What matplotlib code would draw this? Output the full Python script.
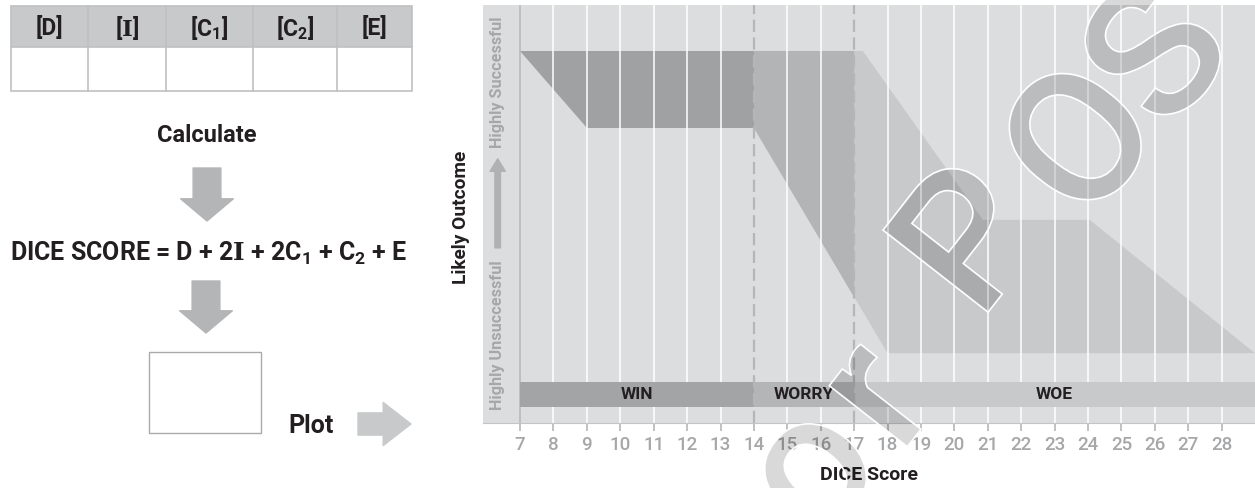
import numpy as np
import matplotlib
matplotlib.use("Agg")
from matplotlib import pyplot as plt
from matplotlib import patheffects as pe

plt.rcParams['font.family'] = ['Roboto', 'DejaVu Sans']
plt.rcParams['mathtext.fontset'] = 'dejavuserif'

# ---- data ----
scores = np.arange(7, 29)
zone_names = ['WIN', 'WORRY', 'WOE']
zone_start = [7, 14, 17]
zone_end = [14, 17, 29]

# outcome bands (x = DICE score, y = likely outcome 0..100)
win_x = [7, 14, 14, 9]
win_y = [89, 89, 70.6, 70.6]
worry_x = [14, 17, 17, 14]
worry_y = [89, 89, 30.1, 70.6]
woe_x = [14, 17.26, 20.85, 24.05, 29.0, 18, 14]
woe_y = [89, 89, 48.6, 48.6, 16.7, 16.7, 70.6]

input_labels = ['[D]', r'[$\mathbf{I}$]', r'[C$\mathregular{_1}$]', r'[C$\mathregular{_2}$]', '[E]']
formula = r'DICE SCORE = D + 2$\mathbf{I}$ + 2C$\mathregular{_1}$ + C$\mathregular{_2}$ + E'

dark = '#231f20'
grey_txt = '#a6a7a9'
band_cols = ['#a0a1a3', '#b3b4b6', '#c8c9cb']
bar_cols = ['#a3a4a6', '#b4b5b7', '#c8c9cb']

W, H = 1255, 488
fig = plt.figure(figsize=(W / 100, H / 100), dpi=100)

# ---- left panel (pixel layout) ----
lay = fig.add_axes([0, 0, 1, 1])
lay.set_xlim(0, W)
lay.set_ylim(H, 0)
lay.axis('off')

col_edges = [11, 88, 166, 253, 337, 412]
lay.add_patch(plt.Rectangle((11, 6), 401, 41, facecolor='#c8c9cb', edgecolor='none'))
lay.add_patch(plt.Rectangle((11, 6), 401, 85, facecolor='none', edgecolor='#bfc0c2', lw=1.2))
lay.plot([11, 412], [47, 47], color='#bfc0c2', lw=1.2)
for e in col_edges[1:-1]:
    lay.plot([e, e], [6, 91], color='#bfc0c2', lw=1.2)
for i, lab in enumerate(input_labels):
    lay.text((col_edges[i] + col_edges[i + 1]) / 2, 28, lab, ha='center', va='center',
             fontsize=16.5, fontweight='bold', color=dark)

lay.text(207, 136, 'Calculate', ha='center', va='center', fontsize=17, fontweight='bold', color=dark)
arrow_kw = dict(color='#b4b5b7', width=20, headwidth=38, headlength=16, shrink=0)
lay.annotate('', xy=(207, 221), xytext=(207, 168), arrowprops=arrow_kw)
lay.text(209, 253, formula, ha='center', va='center', fontsize=18, fontweight='bold', color=dark)
lay.annotate('', xy=(206, 333), xytext=(206, 281), arrowprops=arrow_kw)
lay.add_patch(plt.Rectangle((149, 352), 112, 81, facecolor='white', edgecolor='#a9aaac', lw=1))
lay.text(311, 426, 'Plot', ha='center', va='center', fontsize=18, fontweight='bold', color=dark)
lay.annotate('', xy=(411, 424), xytext=(358, 424),
             arrowprops=dict(color='#c8c9cb', width=16, headwidth=31, headlength=20, shrink=0))

# ---- chart ----
ax = fig.add_axes([483 / W, 65 / H, 772 / W, 418 / H])
ax.set_facecolor('#dcdddf')
ax.set_xlim(5.89, 29.0)
ax.set_ylim(0, 100)

ax.fill(woe_x, woe_y, color=band_cols[2], lw=0, zorder=1)
ax.fill(worry_x, worry_y, color=band_cols[1], lw=0, zorder=1.1)
ax.fill(win_x, win_y, color=band_cols[0], lw=0, zorder=1.2)

for s in scores[1:]:
    if s not in zone_start:
        ax.axvline(s, color='white', lw=1.1, zorder=2)
ax.axvline(scores[0], color='#b9babc', lw=1.2, zorder=2)

for i, name in enumerate(zone_names):
    ax.barh(6.8, zone_end[i] - zone_start[i], left=zone_start[i], height=6.0,
            color=bar_cols[i], lw=0, zorder=3)
    ax.text((zone_start[i] + zone_end[i]) / 2, 6.8, name, ha='center', va='center',
            fontsize=12.5, fontweight='bold', color=dark, zorder=5)

for s in zone_start[1:]:
    ln = ax.axvline(s, color='#b5b6b8', lw=1.6, zorder=4)
    ln.set_dashes((5.5, 2.5))

ax.set_xticks(scores)
ax.set_yticks([])
ax.tick_params(axis='x', direction='out', length=6, width=1.2, color='#b5b6b8',
               labelcolor=grey_txt, labelsize=13.5, pad=3)
for lbl in ax.get_xticklabels():
    lbl.set_fontweight('medium')
for sp in ['left', 'top', 'right']:
    ax.spines[sp].set_visible(False)
ax.spines['bottom'].set_color('#c4c5c7')
ax.set_xlabel('DICE Score', fontsize=14, fontweight='bold', color=dark, labelpad=9)

ax.text(6.33, 81.6, 'Highly Successful', rotation=90, ha='center', va='center',
        fontsize=11.7, fontweight='bold', color=grey_txt)
ax.text(6.33, 21.1, 'Highly Unsuccessful', rotation=90, ha='center', va='center',
        fontsize=11.7, fontweight='bold', color=grey_txt)
ax.annotate('', xy=(6.33, 63.2), xytext=(6.33, 41.9),
            arrowprops=dict(color='#b0b1b3', width=4, headwidth=11, headlength=9, shrink=0))

fig.text(461 / W, 1 - 217 / H, 'Likely Outcome', rotation=90, ha='center', va='center',
         fontsize=13.8, fontweight='bold', color=dark)

# watermark, letter by letter
wm_letters = ['o', 'r', 'P', 'O', 'S']
wm_px = [814, 880, 976, 1087, 1163]
wm_py = [472, 398, 244, 146, 60]
wm_fx = [pe.Normal(), pe.PathPatchEffect(facecolor='none', edgecolor='white', linewidth=1.2)]
for ch, px, py in zip(wm_letters, wm_px, wm_py):
    fig.text(px / W, 1 - py / H, ch, rotation=52, rotation_mode='anchor', ha='center', va='center',
             fontsize=135, fontweight='medium', family=['Roboto', 'DejaVu Sans'],
             color=(0, 0, 0, 0.15), zorder=10, path_effects=wm_fx)

fig.savefig('out.png', dpi=100)
